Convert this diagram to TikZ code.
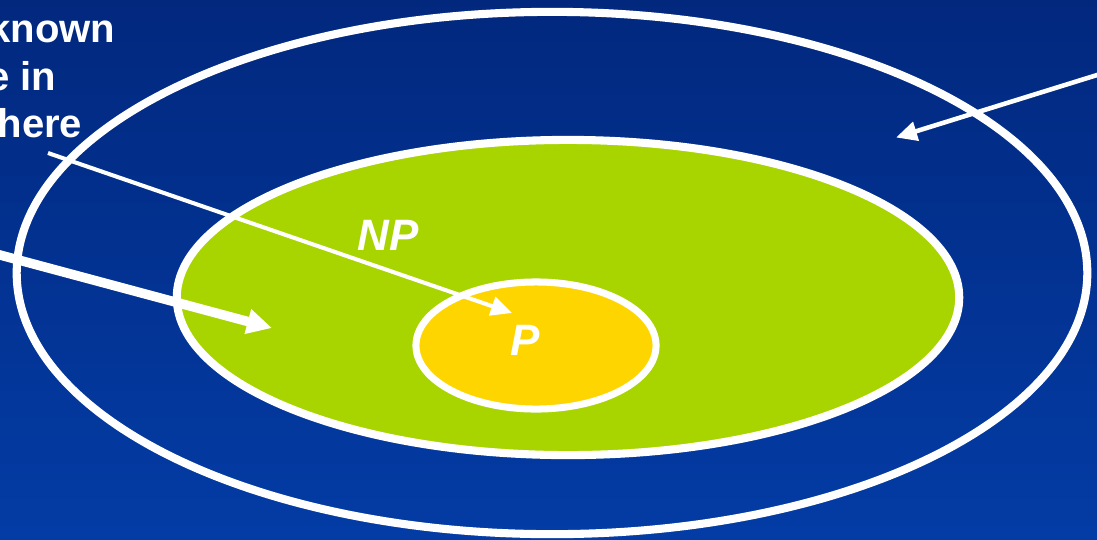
\documentclass[tikz,border=0pt]{standalone}
\usepackage{fontspec}
\setmainfont{Liberation Sans}
\usetikzlibrary{shapes.geometric,arrows.meta}
\definecolor{bgtop}{RGB}{2,40,126}
\definecolor{bgbot}{RGB}{3,60,165}
\definecolor{npgreen}{RGB}{168,212,0}
\definecolor{pyellow}{RGB}{255,213,0}
\tikzset{
  ring/.style={ellipse, draw=white, inner sep=0pt, outer sep=0pt, line width=2.3pt},
  lbl/.style={text=white, inner sep=0pt, font=\fontsize{11.4}{13}\selectfont\bfseries},
  setlbl/.style={text=white, inner sep=0pt, font=\fontsize{12.5}{14}\selectfont\bfseries\itshape},
  thinarrow/.style={draw=white, line width=1.15pt, -{Triangle[length=0.21cm,width=0.19cm]}},
  thickarrow/.style={draw=white, line width=2.7pt, -{Triangle[length=0.25cm,width=0.24cm]}}
}
\begin{document}
\begin{tikzpicture}[x=0.01cm,y=-0.01cm]
\useasboundingbox (0,0) rectangle (1097,539);
\clip (0,0) rectangle (1097,539);
\shade[top color=bgtop, bottom color=bgbot] (0,0) rectangle (1097,539);
% sets
\node[ring, minimum width=10.70cm, minimum height=5.22cm] (all) at (552,273) {};
\node[ring, fill=npgreen, minimum width=7.82cm, minimum height=3.15cm] (np) at (568,297.5) {};
\node[ring, fill=pyellow, line width=2pt, minimum width=2.40cm, minimum height=1.27cm] (p) at (536,345.5) {};
% labels
\node[setlbl, anchor=base west] (nplbl) at (357,250) {NP};
\node[setlbl, anchor=base west] (plbl) at (510,355) {P};
\node[lbl, anchor=base east] (t1) at (116,42) {known};
\node[lbl, anchor=base east] (t2) at (57,90) {e in};
\node[lbl, anchor=base east] (t3) at (83,137) {here};
% arrows
\coordinate (a1s) at (48,153);
\coordinate (a1e) at (512,313);
\coordinate (a2s) at (-10,252.3);
\coordinate (a2e) at (272,328);
\coordinate (a3s) at (1110,71);
\coordinate (a3e) at (896,137.5);
\draw[thinarrow] (a1s) -- (a1e);
\draw[thickarrow] (a2s) -- (a2e);
\draw[thinarrow, line width=1.3pt] (a3s) -- (a3e);
\end{tikzpicture}
\end{document}
